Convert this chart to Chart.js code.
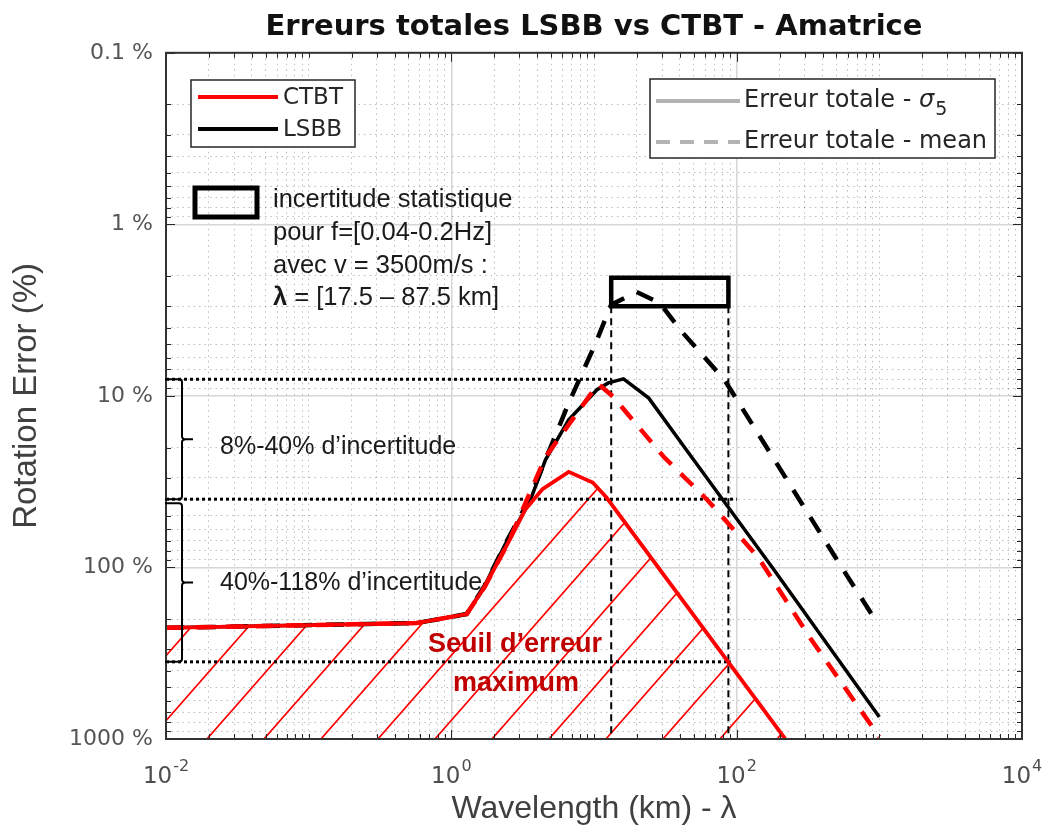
<!DOCTYPE html>
<html>
<head>
<meta charset="utf-8">
<title>Erreurs totales LSBB vs CTBT - Amatrice</title>
<script src="https://cdn.jsdelivr.net/npm/chart.js@4.4.1/dist/chart.umd.min.js"></script>
<style>
  html, body { margin: 0; padding: 0; background: #fff; }
  #chart { display: block; }
</style>
</head>
<body>
<canvas id="chart" width="1047" height="828"></canvas>
<script>
// ---------- Data ----------
const xTickValues = [0.01, 1, 100, 10000];
const xTickExponents = ["-2", "0", "2", "4"];
const yTickValues = [0.1, 1, 10, 100, 1000];
const yTickLabels = ["0.1 %", "1 %", "10 %", "100 %", "1000 %"];

// CTBT, erreur totale - sigma5 (red solid)
const ctbtSigmaX = [0.01, 0.57, 1.28, 1.71, 2.5, 3.3, 4.35, 6.65, 9.8, 12.2, 219];
const ctbtSigmaY = [225, 211, 187, 130, 72, 46, 35, 27.7, 32, 39, 1000];
// CTBT, erreur totale - mean (red dashed)
const ctbtMeanX = [0.01, 0.57, 1.28, 1.71, 2.5, 4.57, 10.7, 13.6, 30.9, 62.3, 141, 335, 1000];
const ctbtMeanY = [225, 211, 187, 130, 72, 22.7, 8.5, 10.1, 22.7, 40.4, 86.9, 265, 972];
// LSBB, erreur totale - sigma5 (black solid)
const lsbbSigmaX = [0.01, 0.57, 1.28, 1.71, 2.41, 3.52, 4.57, 6.65, 10.5, 12.6, 16.1, 24.2, 42.8, 183, 1000];
const lsbbSigmaY = [225, 211, 187, 128, 72, 42, 23.6, 13.8, 9.2, 8.4, 7.96, 10.3, 19.8, 103.5, 745];
// LSBB, erreur totale - mean (black dashed)
const lsbbMeanX = [0.01, 0.57, 1.28, 1.71, 2.41, 3.52, 6.65, 10.3, 13.2, 19.9, 28.9, 41.4, 82.2, 520, 968];
const lsbbMeanY = [225, 211, 187, 128, 72, 40, 11, 4.9, 2.94, 2.48, 2.87, 4.24, 8.07, 94, 211];

// annotations: uncertainty levels (dotted), wavelength band (dashed) and its box
const levelValues = [8, 40, 355];
const levelEnds = [13.2, 100, 91];
const bandX = [13.2, 87.5];
const bandBoxY = [2.05, 3.0];

// ---------- Helpers ----------
function pts(xs, ys) {
  return xs.map((v, i) => ({ x: v, y: ys[i] }));
}

function decadeTicks(minExp, maxExp) {
  const out = [];
  for (let e = minExp; e < maxExp; e++) {
    for (let m = 1; m <= 9; m++) out.push(+(m * Math.pow(10, e)).toPrecision(6));
  }
  out.push(+Math.pow(10, maxExp).toPrecision(6));
  return out;
}
const xGridValues = decadeTicks(-2, 4);
const yGridValues = decadeTicks(-1, 3);

const near = (a, b) => Math.abs(Math.log10(a) - Math.log10(b)) < 1e-6;
const isMajorX = (v) => xTickValues.some((t) => near(t, v));
const isMajorY = (v) => yTickValues.some((t) => near(t, v));

function hatchPattern(ctx) {
  const w = 57, h = 65;
  const c = document.createElement("canvas");
  c.width = w;
  c.height = h;
  const g = c.getContext("2d");
  g.strokeStyle = "#ff0000";
  g.lineWidth = 1.7;
  g.beginPath();
  for (const k of [-1, 0, 1]) {
    g.moveTo(-w + k * w, 2 * h);
    g.lineTo(2 * w + k * w, -h);
  }
  g.stroke();
  return ctx.createPattern(c, "repeat");
}

// ---------- Frame, ticks, legends, text ----------
const decor = {
  id: "decor",
  afterDatasetsDraw(chart) {
    const { ctx, chartArea: a, scales } = chart;
    const sx = scales.x, sy = scales.y;
    ctx.save();

    // inward tick marks on the four sides
    ctx.strokeStyle = "#262626";
    ctx.lineWidth = 1;
    ctx.beginPath();
    xGridValues.forEach((v) => {
      const px = Math.round(sx.getPixelForValue(v)) + 0.5;
      const len = isMajorX(v) ? 9 : 5;
      ctx.moveTo(px, a.bottom); ctx.lineTo(px, a.bottom - len);
      ctx.moveTo(px, a.top); ctx.lineTo(px, a.top + len);
    });
    yGridValues.forEach((v) => {
      const py = Math.round(sy.getPixelForValue(v)) + 0.5;
      const len = isMajorY(v) ? 9 : 5;
      ctx.moveTo(a.left, py); ctx.lineTo(a.left + len, py);
      ctx.moveTo(a.right, py); ctx.lineTo(a.right - len, py);
    });
    ctx.stroke();

    // axes box
    ctx.strokeStyle = "#333";
    ctx.lineWidth = 2;
    ctx.strokeRect(a.left, a.top, a.right - a.left, a.bottom - a.top);

    // x tick labels 10^n
    ctx.fillStyle = "#4d4d4d";
    ctx.textBaseline = "alphabetic";
    ctx.textAlign = "left";
    xTickValues.forEach((v, i) => {
      const px = sx.getPixelForValue(v);
      ctx.font = "23px 'DejaVu Sans'";
      const wBase = ctx.measureText("10").width;
      ctx.font = "16px 'DejaVu Sans'";
      const wExp = ctx.measureText(xTickExponents[i]).width;
      const x0 = px - (wBase + 1 + wExp) / 2;
      ctx.font = "23px 'DejaVu Sans'";
      ctx.fillText("10", x0, 783);
      ctx.font = "16px 'DejaVu Sans'";
      ctx.fillText(xTickExponents[i], x0 + wBase + 1, 771);
    });

    // braces on the left
    const bx = a.left + 16;
    const yl = levelValues.map((v) => sy.getPixelForValue(v));
    ctx.strokeStyle = "#000";
    ctx.lineWidth = 2;
    const brace = (top, bot) => {
      const mid = (top + bot) / 2;
      ctx.beginPath();
      ctx.moveTo(a.left - 1, top);
      ctx.lineTo(bx - 3, top);
      ctx.quadraticCurveTo(bx, top, bx, top + 3);
      ctx.lineTo(bx, mid - 3);
      ctx.quadraticCurveTo(bx, mid, bx + 4, mid);
      ctx.lineTo(bx + 11, mid);
      ctx.moveTo(bx + 4, mid);
      ctx.quadraticCurveTo(bx, mid, bx, mid + 3);
      ctx.lineTo(bx, bot - 3);
      ctx.quadraticCurveTo(bx, bot, bx - 3, bot);
      ctx.lineTo(a.left - 1, bot);
      ctx.stroke();
    };
    brace(yl[0], yl[1]);
    brace(yl[1] + 4, yl[2]);

    // uncertainty text
    ctx.fillStyle = "#1a1a1a";
    ctx.textBaseline = "middle";
    ctx.font = "25px 'Liberation Sans'";
    ctx.fillText("8%-40% d\u2019incertitude", 220, 447);
    ctx.fillText("40%-118% d\u2019incertitude", 220, 583);

    // threshold text
    ctx.fillStyle = "#c00000";
    ctx.textAlign = "center";
    ctx.font = "bold 27px 'Liberation Sans'";
    ctx.fillText("Seuil d\u2019erreur", 515, 645);
    ctx.fillText("maximum", 516, 684);

    // legend CTBT / LSBB
    ctx.textAlign = "left";
    ctx.fillStyle = "#fff";
    ctx.fillRect(191, 80, 164, 67);
    ctx.strokeStyle = "#262626";
    ctx.lineWidth = 1.5;
    ctx.strokeRect(191, 80, 164, 67);
    ctx.lineWidth = 4;
    ctx.strokeStyle = "#ff0000";
    ctx.beginPath(); ctx.moveTo(198, 97); ctx.lineTo(278, 97); ctx.stroke();
    ctx.strokeStyle = "#000";
    ctx.beginPath(); ctx.moveTo(198, 129); ctx.lineTo(278, 129); ctx.stroke();
    ctx.fillStyle = "#262626";
    ctx.font = "23px 'DejaVu Sans'";
    ctx.fillText("CTBT", 283, 98);
    ctx.fillText("LSBB", 283, 130);

    // legend sigma / mean
    ctx.fillStyle = "#fff";
    ctx.fillRect(650, 79, 345, 79);
    ctx.strokeStyle = "#262626";
    ctx.lineWidth = 1.5;
    ctx.strokeRect(650, 79, 345, 79);
    ctx.strokeStyle = "#b3b3b3";
    ctx.lineWidth = 4;
    ctx.beginPath(); ctx.moveTo(656, 101); ctx.lineTo(740, 101); ctx.stroke();
    ctx.setLineDash([14, 10]);
    ctx.beginPath(); ctx.moveTo(656, 142); ctx.lineTo(740, 142); ctx.stroke();
    ctx.setLineDash([]);
    ctx.fillStyle = "#262626";
    ctx.font = "24px 'DejaVu Sans'";
    const s1 = "Erreur totale - ";
    ctx.fillText(s1, 744, 101);
    let xs = 744 + ctx.measureText(s1).width;
    ctx.font = "italic 24px 'DejaVu Sans'";
    ctx.fillText("\u03c3", xs, 101);
    xs += ctx.measureText("\u03c3").width + 1;
    ctx.font = "19px 'DejaVu Sans'";
    ctx.fillText("5", xs, 110);
    ctx.font = "24px 'DejaVu Sans'";
    ctx.fillText("Erreur totale - mean", 744, 142);

    // statistical uncertainty key
    ctx.strokeStyle = "#000";
    ctx.lineWidth = 5;
    ctx.strokeRect(195, 188, 62, 29);
    ctx.fillStyle = "#1a1a1a";
    ctx.font = "25.5px 'Liberation Sans'";
    ctx.fillText("incertitude statistique", 273, 200);
    ctx.fillText("pour f=[0.04-0.2Hz]", 273, 233);
    ctx.fillText("avec v = 3500m/s :", 273, 266);
    ctx.font = "bold 25.5px 'Liberation Sans'";
    ctx.fillText("\u03bb", 273, 298);
    const wl = ctx.measureText("\u03bb").width;
    ctx.font = "25.5px 'Liberation Sans'";
    ctx.fillText(" = [17.5 \u2013 87.5 km]", 273 + wl, 298);

    ctx.restore();
  }
};

// ---------- Chart ----------
const canvas = document.getElementById("chart");
const ctx = canvas.getContext("2d");
const hatch = hatchPattern(ctx);

Chart.defaults.font.family = "'DejaVu Sans'";

const datasets = [
  {
    label: "CTBT - sigma5",
    data: pts(ctbtSigmaX, ctbtSigmaY),
    borderColor: "#ff0000",
    borderWidth: 3.8,
    backgroundColor: hatch,
    fill: { value: 1000 },
  },
  {
    label: "CTBT - mean",
    data: pts(ctbtMeanX, ctbtMeanY),
    borderColor: "#ff0000",
    borderWidth: 4.5,
    borderDash: [17, 13],
  },
  {
    label: "LSBB - sigma5",
    data: pts(lsbbSigmaX, lsbbSigmaY),
    borderColor: "#000",
    borderWidth: 3.5,
  },
  {
    label: "LSBB - mean",
    data: pts(lsbbMeanX, lsbbMeanY),
    borderColor: "#000",
    borderWidth: 4.5,
    borderDash: [18, 14],
  },
  {
    label: "band box",
    data: pts(
      [bandX[0], bandX[1], bandX[1], bandX[0], bandX[0]],
      [bandBoxY[0], bandBoxY[0], bandBoxY[1], bandBoxY[1], bandBoxY[0]]
    ),
    borderColor: "#000",
    borderWidth: 4.5,
    borderCapStyle: "square",
    borderJoinStyle: "miter",
    order: -1,
  },
];

bandX.forEach((bx) => {
  datasets.push({
    label: "band " + bx,
    data: pts([bx, bx], [bandBoxY[1], 1000]),
    borderColor: "#000",
    borderWidth: 2,
    borderDash: [7, 5],
    order: 1,
  });
});

levelValues.forEach((lv, i) => {
  datasets.push({
    label: "level " + lv,
    data: pts([0.01, levelEnds[i]], [lv, lv]),
    borderColor: "#000",
    borderWidth: 3,
    borderDash: [3, 3],
    order: 1,
  });
});

datasets.forEach((d) => {
  d.showLine = true;
  d.pointRadius = 0;
  d.tension = 0;
  if (d.fill === undefined) d.fill = false;
});

new Chart(ctx, {
  type: "scatter",
  data: { datasets },
  options: {
    responsive: false,
    animation: false,
    events: [],
    layout: { padding: { left: 0, right: 25, top: 0, bottom: 0 } },
    plugins: {
      legend: { display: false },
      tooltip: { enabled: false },
      filler: { drawTime: "beforeDatasetsDraw" },
      title: {
        display: true,
        fullSize: false,
        text: "Erreurs totales LSBB vs CTBT - Amatrice",
        color: "#111",
        font: { family: "'DejaVu Sans'", size: 29, weight: "bold" },
        padding: { top: 10, bottom: 8 },
      },
    },
    scales: {
      x: {
        type: "logarithmic",
        min: 0.01,
        max: 10000,
        afterBuildTicks: (s) => { s.ticks = xGridValues.map((v) => ({ value: v })); },
        afterFit: (s) => { s.height = 89; },
        ticks: { display: false, autoSkip: false },
        grid: {
          drawTicks: false,
          color: (c) => (isMajorX(c.tick.value) ? "#d6d6d6" : "rgba(0,0,0,0.26)"),
          lineWidth: (c) => (isMajorX(c.tick.value) ? 1.5 : 1),
        },
        border: {
          display: false,
          dash: (c) => (isMajorX(c.tick.value) ? [] : [1.5, 4]),
        },
        title: {
          display: true,
          text: "Wavelength (km) - \u03bb",
          color: "#404040",
          font: { family: "'Liberation Sans'", size: 32 },
          padding: { top: 0, bottom: 0 },
        },
      },
      y: {
        type: "logarithmic",
        reverse: true,
        min: 0.1,
        max: 1000,
        afterBuildTicks: (s) => { s.ticks = yGridValues.map((v) => ({ value: v })); },
        afterFit: (s) => { s.width = 166; },
        ticks: {
          autoSkip: false,
          padding: 13,
          color: "#555",
          font: { family: "'DejaVu Sans'", size: 22 },
          callback: (v) => {
            const i = yTickValues.findIndex((t) => near(t, v));
            return i >= 0 ? yTickLabels[i] : "";
          },
        },
        grid: {
          drawTicks: false,
          color: (c) => (isMajorY(c.tick.value) ? "#d6d6d6" : "rgba(0,0,0,0.26)"),
          lineWidth: (c) => (isMajorY(c.tick.value) ? 1.5 : 1),
        },
        border: {
          display: false,
          dash: (c) => (isMajorY(c.tick.value) ? [] : [1.5, 4]),
        },
        title: {
          display: true,
          text: "Rotation Error (%)",
          color: "#404040",
          font: { family: "'Liberation Sans'", size: 33 },
          padding: { top: 7, bottom: 0 },
        },
      },
    },
  },
  plugins: [decor],
});
</script>
</body>
</html>
